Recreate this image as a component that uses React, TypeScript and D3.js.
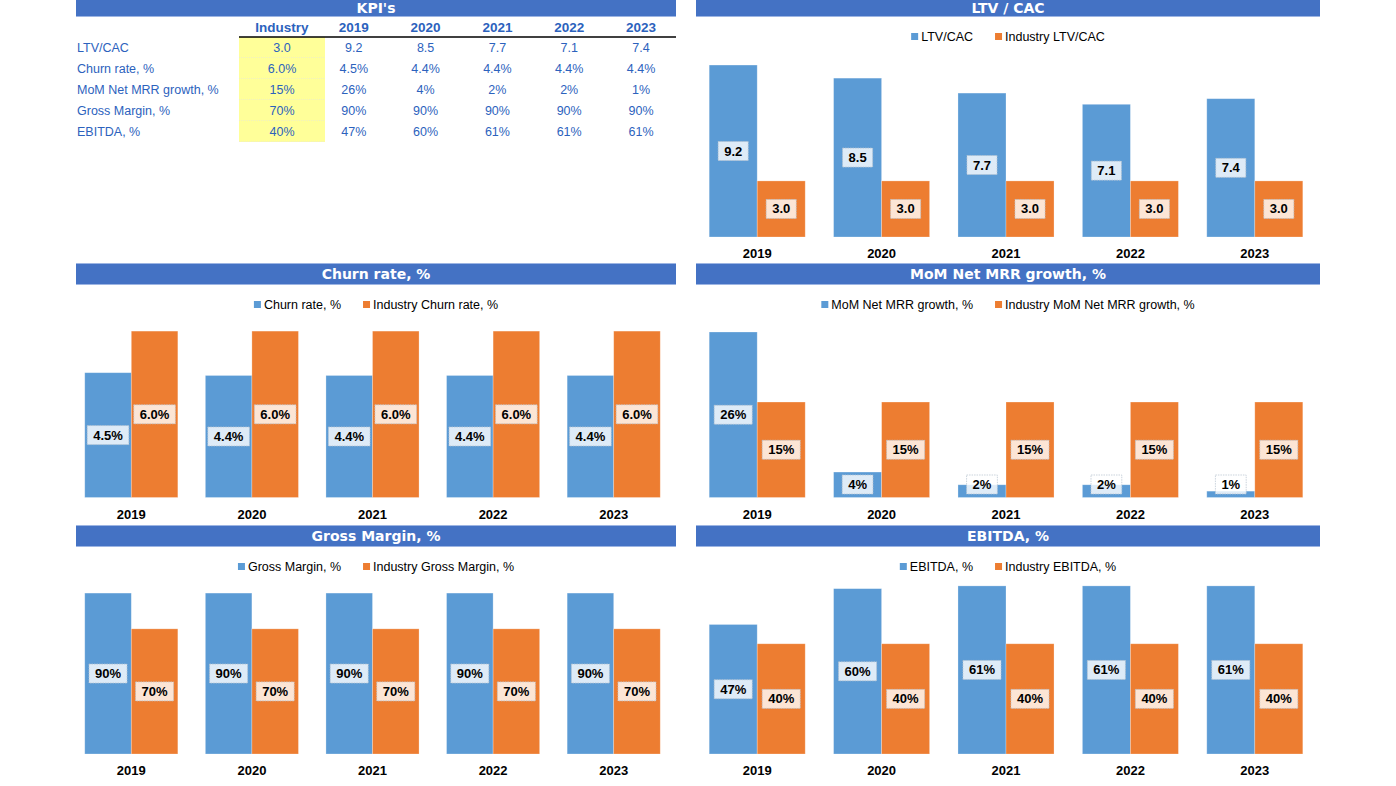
import React, { useEffect, useRef } from 'react';
import * as d3 from 'd3';

const years = ['2019', '2020', '2021', '2022', '2023'];

const ltvCac = [9.2, 8.5, 7.7, 7.1, 7.4];
const industryLtvCac = 3.0;
const churnRate = [4.5, 4.4, 4.4, 4.4, 4.4];
const industryChurn = 6.0;
const momGrowth = [26, 4, 2, 2, 1];
const industryMom = 15;
const grossMargin = [90, 90, 90, 90, 90];
const industryGM = 70;
const ebitda = [47, 60, 61, 61, 61];
const industryEbitda = 40;

const kpiRowLabels = ['LTV/CAC', 'Churn rate, %', 'MoM Net MRR growth, %', 'Gross Margin, %', 'EBITDA, %'];
const kpiIndustryText = ['3.0', '6.0%', '15%', '70%', '40%'];
const kpiYearText = [
  ['9.2', '8.5', '7.7', '7.1', '7.4'],
  ['4.5%', '4.4%', '4.4%', '4.4%', '4.4%'],
  ['26%', '4%', '2%', '2%', '1%'],
  ['90%', '90%', '90%', '90%', '90%'],
  ['47%', '60%', '61%', '61%', '61%'],
];

const BLUE = '#5B9BD5';
const ORANGE = '#ED7D31';
const HEADER = '#4472C4';
const FONT = "Tahoma, 'Liberation Sans', Arial, sans-serif";
const TITLE_FONT = "'DejaVu Sans', Verdana, sans-serif";
const TABLE_BLUE = '#2c62bd';

type ChartDef = {
  title: string;
  seriesName: string;
  industryName: string;
  values: number[];
  industry: number;
  fmt: (v: number) => string;
  axisMax: number;
  panel: 'L' | 'R';
  row: number;
};

const charts: ChartDef[] = [
  { title: 'LTV / CAC', seriesName: 'LTV/CAC', industryName: 'Industry LTV/CAC', values: ltvCac, industry: industryLtvCac, fmt: v => v.toFixed(1), axisMax: 9.63, panel: 'R', row: 0 },
  { title: 'Churn rate, %', seriesName: 'Churn rate, %', industryName: 'Industry Churn rate, %', values: churnRate, industry: industryChurn, fmt: v => v.toFixed(1) + '%', axisMax: 6.22, panel: 'L', row: 1 },
  { title: 'MoM Net MRR growth, %', seriesName: 'MoM Net MRR growth, %', industryName: 'Industry MoM Net MRR growth, %', values: momGrowth, industry: industryMom, fmt: v => v.toFixed(0) + '%', axisMax: 27.1, panel: 'R', row: 1 },
  { title: 'Gross Margin, %', seriesName: 'Gross Margin, %', industryName: 'Industry Gross Margin, %', values: grossMargin, industry: industryGM, fmt: v => v.toFixed(0) + '%', axisMax: 93.4, panel: 'L', row: 2 },
  { title: 'EBITDA, %', seriesName: 'EBITDA, %', industryName: 'Industry EBITDA, %', values: ebitda, industry: industryEbitda, fmt: v => v.toFixed(0) + '%', axisMax: 60.6, panel: 'R', row: 2 },
];

const panels = {
  L: { hx0: 76, hx1: 676, px0: 71, px1: 674 },
  R: { hx0: 696, hx1: 1320, px0: 695, px1: 1317 },
};
const rowHeaderTop = [-5, 263, 525];
const rowBottom = [237, 497.5, 754];

function drawHeader(g: d3.Selection<SVGGElement, unknown, null, undefined>, x0: number, x1: number, y0: number, title: string) {
  g.append('rect').attr('x', x0).attr('y', y0).attr('width', x1 - x0).attr('height', 22).attr('fill', HEADER);
  g.append('line').attr('x1', x0).attr('x2', x1).attr('y1', y0 + 0.5).attr('y2', y0 + 0.5).attr('stroke', '#9db5e3').attr('stroke-width', 1);
  g.append('line').attr('x1', x0).attr('x2', x1).attr('y1', y0 + 21.5).attr('y2', y0 + 21.5).attr('stroke', '#9db5e3').attr('stroke-width', 1);
  g.append('text').attr('x', (x0 + x1) / 2).attr('y', Math.max(y0 + 11, 7.5)).attr('text-anchor', 'middle').attr('dominant-baseline', 'central')
    .attr('fill', '#fff').attr('font-weight', 'bold').attr('font-size', 14).attr('font-family', TITLE_FONT).text(title);
}

export default function App() {
  const ref = useRef<SVGSVGElement>(null);

  useEffect(() => {
    const svg = d3.select(ref.current!);
    svg.selectAll('*').remove();
    const root = svg.append('g');

    // KPI table
    drawHeader(root, panels.L.hx0, panels.L.hx1, rowHeaderTop[0], "KPI's");
    const colX = d3.scalePoint<string>().domain(['Industry', ...years]).range([282, 641]);
    const rowY = d3.scaleBand<string>().domain(kpiRowLabels).range([37, 142]);
    const tg = root.append('g').attr('font-family', FONT).attr('font-size', 12.5);
    kpiRowLabels.forEach(lbl => {
      tg.append('rect').attr('x', 239).attr('y', rowY(lbl)!).attr('width', 86).attr('height', rowY.bandwidth()).attr('fill', '#FFFF99');
      tg.append('line').attr('x1', 239).attr('x2', 325).attr('y1', rowY(lbl)! + rowY.bandwidth() - 0.5).attr('y2', rowY(lbl)! + rowY.bandwidth() - 0.5)
        .attr('stroke', '#f0f0c0').attr('stroke-dasharray', '1,1');
    });
    ['Industry', ...years].forEach(c => {
      tg.append('text').attr('x', colX(c)!).attr('y', 27).attr('text-anchor', 'middle').attr('dominant-baseline', 'central')
        .attr('font-weight', 'bold').attr('font-size', 13.5).attr('fill', TABLE_BLUE).text(c);
    });
    tg.append('line').attr('x1', 239).attr('x2', 676).attr('y1', 37).attr('y2', 37).attr('stroke', '#000').attr('stroke-width', 1.5);
    kpiRowLabels.forEach((lbl, i) => {
      const cy = rowY(lbl)! + rowY.bandwidth() / 2;
      tg.append('text').attr('x', 77).attr('y', cy).attr('dominant-baseline', 'central').attr('fill', TABLE_BLUE).text(lbl);
      tg.append('text').attr('x', colX('Industry')!).attr('y', cy).attr('text-anchor', 'middle').attr('dominant-baseline', 'central').attr('fill', TABLE_BLUE).text(kpiIndustryText[i]);
      years.forEach((y, j) => {
        tg.append('text').attr('x', colX(y)!).attr('y', cy).attr('text-anchor', 'middle').attr('dominant-baseline', 'central').attr('fill', TABLE_BLUE).text(kpiYearText[i][j]);
      });
    });

    // Charts
    charts.forEach(ch => {
      const p = panels[ch.panel];
      const hTop = rowHeaderTop[ch.row];
      const bottom = rowBottom[ch.row];
      const plotTop = hTop + 22 + 40;
      const g = root.append('g');
      drawHeader(g, p.hx0, p.hx1, hTop, ch.title);

      const x0 = d3.scaleBand<string>().domain(years).range([p.px0, p.px1]).paddingInner(0.228).paddingOuter(0.114);
      const x1 = d3.scaleBand<string>().domain(['s', 'i']).range([0, x0.bandwidth()]);
      const y = d3.scaleLinear().domain([0, ch.axisMax]).range([bottom, plotTop]);

      // legend
      const legY = hTop + 42;
      const lg = g.append('g').attr('font-family', FONT).attr('font-size', 12.5);
      const items = [{ name: ch.seriesName, color: BLUE }, { name: ch.industryName, color: ORANGE }];
      let cx = 0;
      const placed: { t: any; r: any; x: number }[] = [];
      items.forEach((it, k) => {
        const r = lg.append('rect').attr('width', 7).attr('height', 7).attr('fill', it.color).attr('y', legY - 4);
        const t = lg.append('text').attr('y', legY).attr('dominant-baseline', 'central').attr('fill', '#000').text(it.name);
        const w = (t.node() as SVGTextElement).getComputedTextLength();
        placed.push({ t, r, x: cx });
        cx += 7 + 3 + w + (k === 0 ? 22 : 0);
      });
      const startX = (p.hx0 + p.hx1) / 2 - cx / 2;
      placed.forEach(pl => {
        pl.r.attr('x', startX + pl.x);
        pl.t.attr('x', startX + pl.x + 10);
      });

      const data = years.map((yr, i) => ({ yr, s: ch.values[i], i: ch.industry }));
      const groups = g.selectAll('g.grp').data(data).enter().append('g').attr('transform', d => `translate(${x0(d.yr)},0)`);
      (['s', 'i'] as const).forEach(key => {
        groups.append('rect')
          .attr('x', x1(key)!)
          .attr('y', d => y(d[key]))
          .attr('width', x1.bandwidth())
          .attr('height', d => bottom - y(d[key]))
          .attr('fill', key === 's' ? BLUE : ORANGE)
          .attr('stroke', 'rgba(255,255,255,0.35)')
          .attr('stroke-width', 0.75);
      });
      (['s', 'i'] as const).forEach(key => {
        groups.each(function (d) {
          const gg = d3.select(this);
          const cxm = x1(key)! + x1.bandwidth() / 2;
          const cym = Math.min((y(d[key]) + bottom) / 2, bottom - 13);
          const t = gg.append('text').attr('x', cxm).attr('y', cym).attr('text-anchor', 'middle').attr('dominant-baseline', 'central')
            .attr('font-family', FONT).attr('font-weight', 'bold').attr('font-size', 13).attr('fill', '#000').text(ch.fmt(d[key]));
          const w = (t.node() as SVGTextElement).getComputedTextLength();
          gg.insert('rect', function () { return t.node() as any; })
            .attr('x', cxm - w / 2 - 6).attr('y', cym - 9.5).attr('width', w + 12).attr('height', 19)
            .attr('fill', 'rgba(255,255,255,0.8)').attr('stroke', '#b8c4d0').attr('stroke-width', 0.75).attr('stroke-dasharray', '1.5,1');
        });
      });

      // x labels
      g.selectAll('text.xl').data(years).enter().append('text')
        .attr('x', d => x0(d)! + x0.bandwidth() / 2)
        .attr('y', bottom + 16.5)
        .attr('text-anchor', 'middle').attr('dominant-baseline', 'central')
        .attr('font-family', FONT).attr('font-weight', 'bold').attr('font-size', 13).attr('fill', '#000')
        .text(d => d);
    });
  }, []);

  return (
    <svg ref={ref} width={1396} height={786} style={{ position: 'absolute', left: 0, top: 0, background: '#fff' }} />
  );
}
